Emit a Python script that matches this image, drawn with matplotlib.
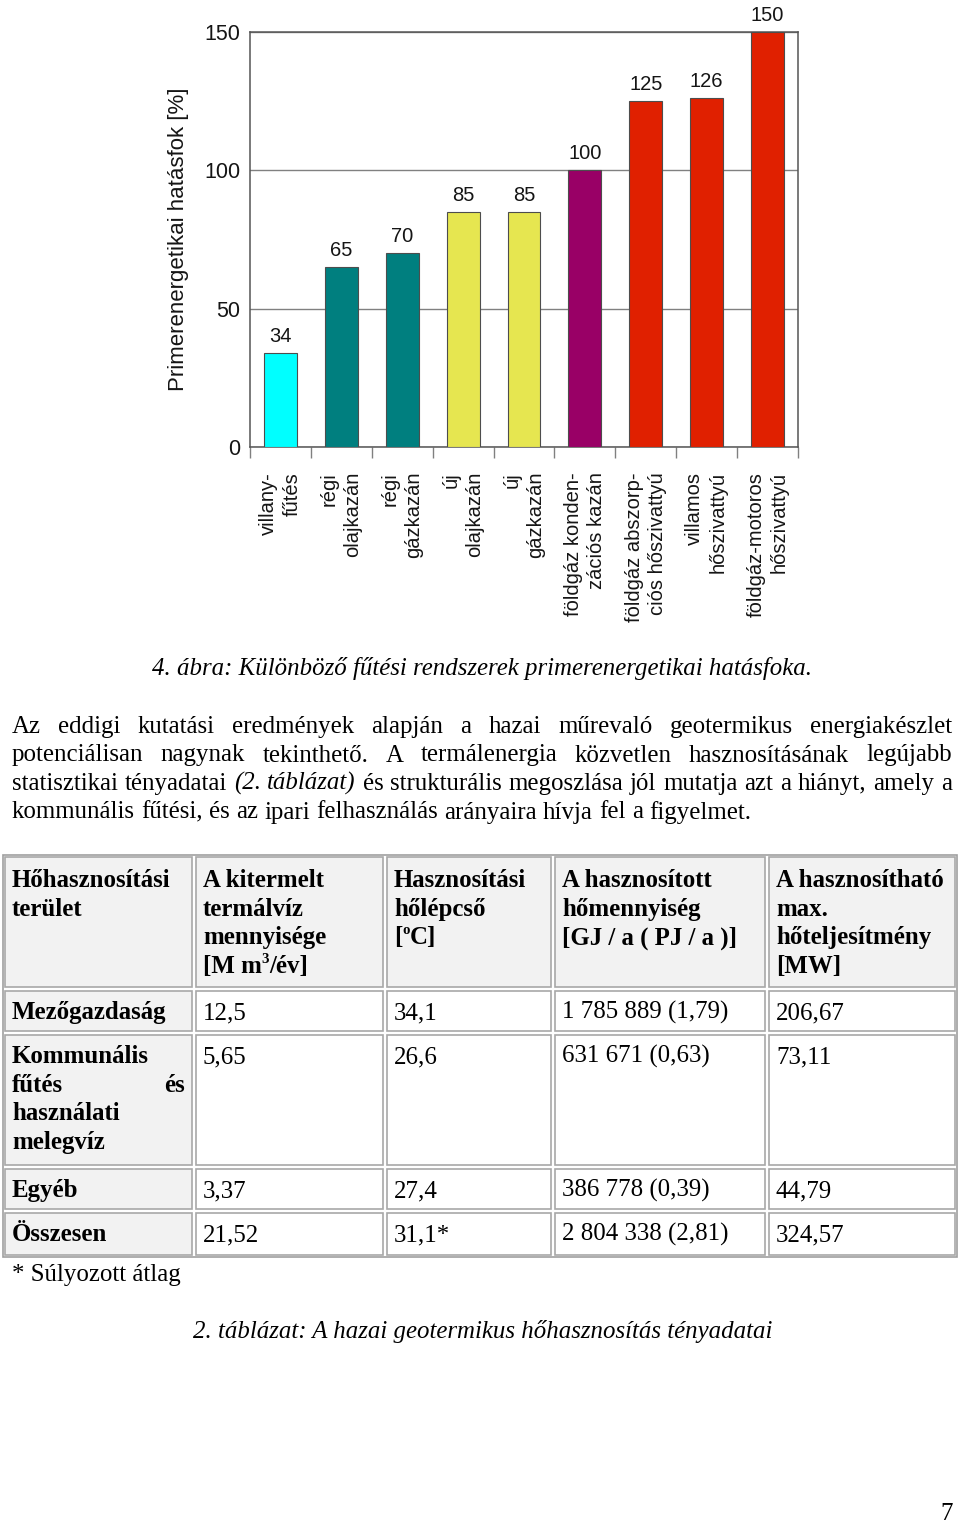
import numpy as np
import matplotlib
matplotlib.use("Agg")
from matplotlib import pyplot as plt
from matplotlib.patches import Rectangle

plt.rcParams['font.family'] = ['Liberation Sans', 'DejaVu Sans']
SERIF = ['Liberation Serif', 'DejaVu Serif']

# ---- bar chart data ----
categories = ["villany-\nfűtés", "régi\nolajkazán", "régi\ngázkazán", "új\nolajkazán",
              "új\ngázkazán", "földgáz konden-\nzációs kazán", "földgáz abszorp-\nciós hőszivattyú",
              "villamos\nhőszivattyú", "földgáz-motoros\nhőszivattyú"]
efficiency = [34, 65, 70, 85, 85, 100, 125, 126, 150]
bar_colors = ['#00FFFF', '#007F7F', '#007F7F', '#E6E650', '#E6E650',
              '#990066', '#E02000', '#E02000', '#E02000']
y_ticks = [0, 50, 100, 150]
y_label = "Primerenergetikai hatásfok [%]"

# ---- page text ----
fig_caption = "4. ábra: Különböző fűtési rendszerek primerenergetikai hatásfoka."
paragraph = [
    "Az eddigi kutatási eredmények alapján a hazai műrevaló geotermikus energiakészlet",
    "potenciálisan nagynak tekinthető. A termálenergia közvetlen hasznosításának legújabb",
    "statisztikai tényadatai _(2. _táblázat) és strukturális megoszlása jól mutatja azt a hiányt, amely a",
    "kommunális fűtési, és az ipari felhasználás arányaira hívja fel a figyelmet.",
]

# ---- table data ----
# ^x marks a superscript piece
header = [["Hőhasznosítási", "terület"],
          ["A kitermelt", "termálvíz", "mennyisége", "[M m|^3|/év]"],
          ["Hasznosítási", "hőlépcső", "[|^o|C]"],
          ["A hasznosított", "hőmennyiség", "[GJ / a ( PJ / a )]"],
          ["A hasznosítható", "max.", "hőteljesítmény", "[MW]"]]
row_labels = [["Mezőgazdaság"], ["Kommunális", "fűtés és", "használati", "melegvíz"],
              ["Egyéb"], ["Összesen"]]
water = ["12,5", "5,65", "3,37", "21,52"]
temp_step = ["34,1", "26,6", "27,4", "31,1*"]
heat = ["1 785 889 (1,79)", "631 671 (0,63)", "386 778 (0,39)", "2 804 338 (2,81)"]
max_power = ["206,67", "73,11", "44,79", "324,57"]
footnote = "* Súlyozott átlag"
table_caption = "2. táblázat: A hazai geotermikus hőhasznosítás tényadatai"
page_number = "7"

fig = plt.figure(figsize=(9.6, 15.22), dpi=100)
page = fig.add_axes([0, 0, 1, 1])
page.set_xlim(0, 960)
page.set_ylim(1522, 0)
page.axis('off')
renderer = fig.canvas.get_renderer()

# ---- chart ----
ink = '#151515'
ax = fig.add_axes([250 / 960, 1 - 447 / 1522, 548 / 960, 415 / 1522])
x = np.arange(len(efficiency))
ax.bar(x, efficiency, width=0.54, color=bar_colors, edgecolor='#4d4d4d', linewidth=0.8, zorder=3)
for xi, v in zip(x, efficiency):
    ax.annotate(str(v), (xi, v), xytext=(0, 5), textcoords='offset points',
                ha='center', va='bottom', fontsize=14.5, color=ink, annotation_clip=False)
ax.set_xlim(-0.5, len(efficiency) - 0.5)
ax.set_ylim(0, 150)
ax.set_yticks(y_ticks)
ax.tick_params(axis='y', length=0, pad=7, labelsize=15.5, labelcolor=ink)
ax.yaxis.grid(True, color='#808080', lw=1)
ax.set_axisbelow(True)
ax.set_xticks(x)
ax.set_xticklabels(categories, rotation=90, ha='center', va='top', multialignment='right',
                   fontsize=14.5, color=ink, linespacing=1.3)
ax.set_xticks(np.arange(-0.5, len(efficiency)), minor=True)
ax.tick_params(axis='x', which='major', length=0, pad=18)
ax.tick_params(axis='x', which='minor', length=8, width=1, color='#808080')
for s in ax.spines.values():
    s.set_color('#555555')
    s.set_linewidth(1.1)
ax.text(-0.131, 0.5, y_label, rotation=90, ha='center', va='center', fontsize=16,
        color=ink, transform=ax.transAxes)

# ---- caption & paragraph ----
size = 17.9
page.text(482, 675, fig_caption, ha='center', va='baseline', fontsize=size,
          style='italic', family=SERIF)


def text_width(s, **kw):
    t = page.text(0, 0, s, fontsize=kw.pop('fontsize', size), family=SERIF, **kw)
    w = t.get_window_extent(renderer).width
    t.remove()
    return w


def justify(line, y, x0, x1, last=False):
    words = line.split(' ')
    texts = []
    for w in words:
        st = 'normal'
        if w.startswith('_'):
            w, st = w[1:], 'italic'
        texts.append(page.text(0, y, w, fontsize=size, style=st, family=SERIF, va='baseline'))
    widths = [t.get_window_extent(renderer).width for t in texts]
    sp = text_width('a a') - 2 * text_width('a')
    gap = sp if last else (x1 - x0 - sum(widths)) / (len(texts) - 1)
    pos = x0
    for t, w in zip(texts, widths):
        t.set_x(pos)
        pos += w + gap


for i, line in enumerate(paragraph):
    justify(line, 733 + i * 28.5, 12, 952, last=(i == len(paragraph) - 1))

# ---- table ----
col_edges = [(5, 192), (196, 383), (387, 551), (555, 765), (769, 955)]
row_edges = [(857, 987), (991, 1031), (1035, 1165), (1169, 1209), (1213, 1255)]
line_h = 28.7
page.add_patch(Rectangle((3, 855), 954, 402, fill=False, edgecolor='#a0a0a0', lw=1.2))
for r, (y0, y1) in enumerate(row_edges):
    for c, (x0, x1) in enumerate(col_edges):
        fc = '#f2f2f2' if (r == 0 or c == 0) else 'white'
        page.add_patch(Rectangle((x0, y0), x1 - x0, y1 - y0, facecolor=fc,
                                 edgecolor='#a8a8a8', lw=1.2))


def put_pieces(x0, yb, ln, weight):
    pos = x0
    for piece in ln.split('|'):
        if piece.startswith('^'):
            piece = piece[1:]
            fs, dy = size * 0.6, -10
        else:
            fs, dy = size, 0
        page.text(pos, yb + dy, piece, fontsize=fs, weight=weight, family=SERIF, va='baseline')
        pos += text_width(piece, fontsize=fs, weight=weight)


def put_lines(col, y_base, lines, bold):
    x0 = col_edges[col][0] + 7
    weight = 'bold' if bold else 'normal'
    for k, ln in enumerate(lines):
        yb = y_base + k * line_h
        if ln == "fűtés és":
            page.text(x0, yb, "fűtés", fontsize=size, weight=weight, family=SERIF, va='baseline')
            page.text(col_edges[col][1] - 7, yb, "és", fontsize=size, weight=weight, family=SERIF,
                      va='baseline', ha='right')
            continue
        put_pieces(x0, yb, ln, weight)


for c, lines in enumerate(header):
    put_lines(c, 887, lines, True)
body_cols = [water, temp_step, heat, max_power]
for r, lab in enumerate(row_labels):
    yb = row_edges[r + 1][0] + 28
    put_lines(0, yb, lab, True)
    for c, col in enumerate(body_cols):
        put_lines(c + 1, yb, [col[r]], False)

page.text(12, 1281, footnote, fontsize=size, family=SERIF, va='baseline')
page.text(483, 1338, table_caption, ha='center', va='baseline', fontsize=size,
          style='italic', family=SERIF)
page.text(953, 1520, page_number, ha='right', va='baseline', fontsize=size, family=SERIF)

fig.savefig("out.png", dpi=100)
